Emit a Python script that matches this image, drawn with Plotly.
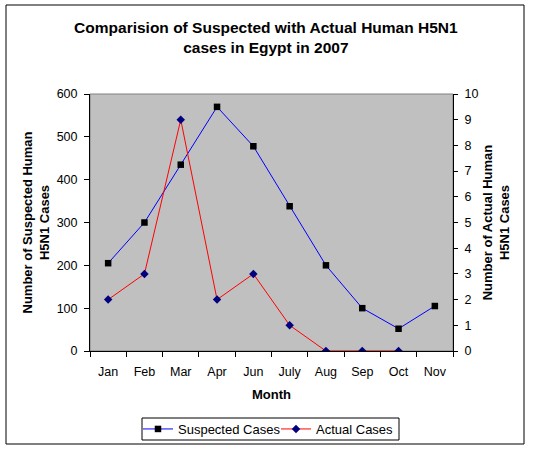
import plotly.graph_objects as go

months = ["Jan", "Feb", "Mar", "Apr", "Jun", "July", "Aug", "Sep", "Oct", "Nov"]
suspected = [205, 300, 435, 570, 478, 338, 200, 100, 52, 105]
actual_months = ["Jan", "Feb", "Mar", "Apr", "Jun", "July", "Aug", "Sep", "Oct"]
actual = [2, 3, 9, 2, 3, 1, 0, 0, 0]

FONT = "Liberation Sans, Arial, sans-serif"

fig = go.Figure()
fig.add_trace(go.Scatter(
    x=months, y=suspected, name="Suspected Cases", mode="lines+markers",
    line=dict(color="#0000FF", width=1),
    marker=dict(symbol="square", size=6.5, color="#000000"),
))
fig.add_trace(go.Scatter(
    x=actual_months, y=actual, name="Actual Cases", mode="lines+markers", yaxis="y2",
    line=dict(color="#FF0000", width=1),
    marker=dict(symbol="diamond", size=6.5, color="#000080"),
))

W, H = 535, 449
L, R, T, B = 90, 82, 94, 98
pw, ph = W - L - R, H - T - B

def px_x(x):
    return (x - L) / pw

def px_y(y):
    return (H - B - y) / ph

fig.update_layout(
    width=W, height=H,
    margin=dict(l=L, r=R, t=T, b=B, autoexpand=False),
    paper_bgcolor="white",
    plot_bgcolor="#C0C0C0",
    font=dict(family=FONT, size=12.5, color="black"),
    title=dict(
        text="<b>Comparision of Suspected with Actual Human H5N1<br>cases in Egypt in 2007</b>",
        x=0.497, xanchor="center", y=1 - 33 / H, yanchor="middle",
        font=dict(family=FONT, size=15.5, color="black"),
    ),
    showlegend=True,
    legend=dict(
        orientation="h", x=px_x(138), xanchor="left", y=px_y(429), yanchor="middle",
        bgcolor="rgba(0,0,0,0)", borderwidth=0,
        font=dict(family=FONT, size=13, color="black"),
        tracegroupgap=0, entrywidth=93, entrywidthmode="pixels",
    ),
    xaxis=dict(
        type="category", categoryorder="array", categoryarray=months,
        range=[-0.5, 9.5], showgrid=False, zeroline=False, automargin=False,
        showline=True, linecolor="black", linewidth=1,
        ticks="outside", tickson="boundaries", ticklen=5, tickcolor="black",
        ticklabelstandoff=9,
        title=dict(text="<b>Month</b>", font=dict(family=FONT, size=13), standoff=11),
        tickfont=dict(family=FONT, size=12.5),
    ),
    yaxis=dict(
        range=[0, 600], dtick=100, showgrid=False, zeroline=False, automargin=False,
        showline=True, linecolor="black", linewidth=1,
        ticks="outside", ticklen=5, tickcolor="black",
        ticklabelstandoff=4,
        title=dict(text="<b>Number of Suspected Human<br>H5N1 Cases</b>",
                   font=dict(family=FONT, size=13), standoff=4),
        tickfont=dict(family=FONT, size=12.5),
    ),
    yaxis2=dict(
        range=[0, 10], dtick=1, overlaying="y", side="right",
        showgrid=False, zeroline=False, automargin=False,
        showline=True, linecolor="black", linewidth=1,
        ticks="outside", ticklen=4, tickcolor="black",
        ticklabelstandoff=4,
        title=dict(text="<b>Number of Actual Human<br>H5N1 Cases</b>",
                   font=dict(family=FONT, size=13), standoff=5),
        tickfont=dict(family=FONT, size=12.5),
    ),
    shapes=[
        dict(type="rect", xref="paper", yref="paper", x0=0, x1=1, y0=0, y1=1,
             line=dict(color="#808080", width=1), layer="below"),
        dict(type="rect", xref="paper", yref="paper",
             x0=px_x(6), x1=px_x(524), y0=px_y(444), y1=px_y(5),
             line=dict(color="black", width=1)),
        dict(type="rect", xref="paper", yref="paper",
             x0=px_x(142), x1=px_x(399), y0=px_y(440), y1=px_y(418),
             line=dict(color="black", width=1)),
    ],
)

fig.write_html("out.html", config={"displayModeBar": False, "responsive": False},
               post_script="document.body.style.margin='0';")
